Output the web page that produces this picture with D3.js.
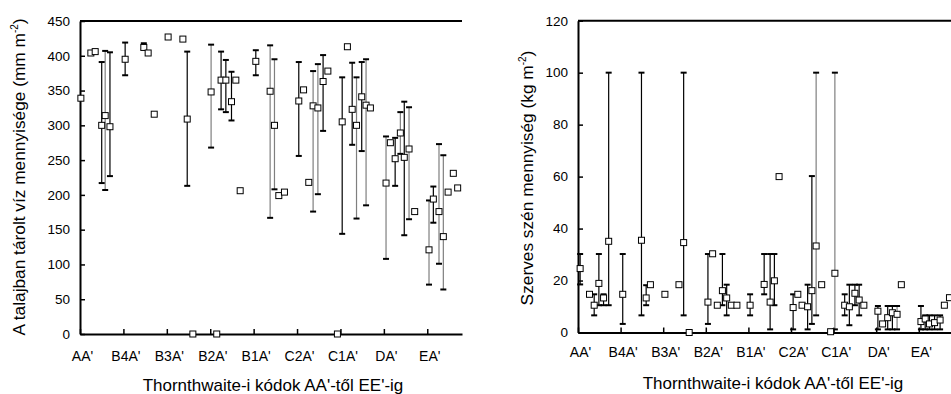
<!DOCTYPE html>
<html><head><meta charset="utf-8">
<script src="https://cdn.jsdelivr.net/npm/d3@7"></script>
<style>
body{margin:0;background:#fff;}
svg{display:block;font-family:"Liberation Sans",Arial,sans-serif;}
</style></head>
<body><svg id="c" width="951" height="394"></svg>
<script>
// ---- tick labels / categories ----
const categories = ["AA'","B4A'","B3A'","B2A'","B1A'","C2A'","C1A'","DA'","EA'"];
const leftTicks = [0,50,100,150,200,250,300,350,400,450];
const rightTicks = [0,20,40,60,80,100,120];

// ---- left chart: stored water (mm m-2) ----
const leftX  = [0.02,0.25,0.35,0.50,0.58,0.69,1.04,1.47,1.57,1.71,2.03,2.37,2.47,2.60,3.02,3.15,3.25,3.36,3.49,3.59,3.69,4.05,4.38,4.48,4.58,4.71,5.04,5.15,5.27,5.37,5.48,5.60,5.71,5.93,6.04,6.16,6.27,6.37,6.49,6.59,6.69,7.05,7.15,7.26,7.38,7.47,7.58,7.71,8.04,8.14,8.27,8.37,8.48,8.60,8.70];
const leftY  = [339,404,406,300,314,298,395,412,404,316,427,424,309,0,348,0,365,365,334,365,206,392,349,300,199,204,335,351,218,328,325,363,378,0,305,413,323,300,341,329,325,217,275,252,289,254,266,176,121,194,176,140,204,231,210];
const leftLo = [null,null,null,217,207,227,372,409,null,null,null,null,213,null,268,null,323,319,307,null,null,372,167,208,null,null,256,null,null,176,201,292,null,null,144,null,272,166,263,185,null,108,null,213,259,142,165,null,71,160,101,64,null,null,null];
const leftHi = [null,null,null,391,407,405,419,418,null,null,null,null,406,null,416,null,406,394,377,null,null,408,415,395,null,null,391,null,null,378,388,401,null,null,369,null,390,369,391,395,null,284,null,282,319,334,326,null,192,212,273,257,null,null,null];
const leftTone = [0,0,0,0,1,0,0,0,0,0,0,0,0,0,1,0,0,0,0,0,0,0,1,1,0,0,0,0,0,1,1,0,0,0,0,0,0,1,0,1,0,1,0,0,1,0,1,0,1,0,1,1,0,0,0];

// ---- right chart: organic carbon (kg m-2) ----
const rightX  = [0.05,0.27,0.38,0.49,0.60,0.72,1.05,1.49,1.60,1.70,2.04,2.37,2.48,2.61,3.05,3.16,3.27,3.39,3.49,3.60,3.73,4.04,4.37,4.51,4.61,4.72,5.05,5.16,5.26,5.39,5.49,5.59,5.72,5.93,6.03,6.26,6.37,6.50,6.60,6.71,7.04,7.15,7.27,7.38,7.49,7.59,8.05,8.15,8.25,8.37,8.50,8.60,8.72];
const rightY  = [24.6,14.7,10.5,18.9,13.3,35.1,14.7,35.5,13.3,18.4,14.7,18.4,34.6,0,11.7,30.3,10.5,16.1,13.3,10.5,10.5,10.5,18.5,11.7,19.9,60,9.6,14.7,10.5,9.9,16.1,33.3,18.4,0.3,22.8,10.5,9.9,15.1,12.5,10.5,8.2,3.3,5.7,7.6,7.0,18.4,4.2,5.2,3.3,3.8,4.8,10.5,13.4];
const rightLo = [18.5,null,6.6,10.5,10.5,10.5,3.3,6.6,10.5,null,null,null,6.6,null,3.3,null,null,10.5,6.6,null,null,6.6,14.7,1.2,10.5,null,1.2,null,null,1.2,3.3,6.6,null,null,1.2,6.6,2.8,10.5,6.6,null,1.2,null,1.2,1.2,1.2,null,1.2,1.2,1.2,1.2,1.2,null,null];
const rightHi = [30.2,null,14.7,30.2,14.7,100,30.2,100,18.2,null,null,null,100,null,30.2,null,null,30.2,18.4,null,null,14.7,30.2,30.2,30.2,null,14.7,null,null,18.4,60.2,100,null,null,100,14.7,18.4,18.4,18.4,null,10.2,null,10.2,10.2,10.2,null,10.2,6.6,6.6,6.6,6.6,null,null];
const rightTone = [0,0,0,0,0,0,0,0,0,0,0,0,0,0,0,0,0,0,0,0,0,0,0,0,0,0,0,0,0,0,0,1,0,0,1,0,0,0,0,0,0,0,0,0,1,0,0,0,0,0,0,0,0];

const svg = d3.select("#c");
svg.append("rect").attr("width",951).attr("height",394).attr("fill","#fff");

function panel(cfg){
  const g = svg.append("g");
  const x = d3.scaleLinear().domain(cfg.xDomain).range([cfg.left, cfg.right]);
  const y = d3.scaleLinear().domain(cfg.yDomain).range([cfg.bottom, cfg.top]);

  // top border
  g.append("line").attr("x1",cfg.left).attr("x2",cfg.right).attr("y1",cfg.top).attr("y2",cfg.top)
    .attr("stroke","#000").attr("stroke-width",2);

  // y axis
  const ya = g.append("g").attr("transform",`translate(${cfg.left},0)`)
    .call(d3.axisLeft(y).tickValues(cfg.yTicks).tickSizeInner(-5).tickSizeOuter(0).tickPadding(10).tickFormat(d3.format("d")));
  ya.select(".domain").attr("stroke-width",2);
  ya.selectAll(".tick line").attr("stroke-width",1.5);
  ya.selectAll("text").attr("font-size",13.5).attr("fill","#000").attr("font-family","Liberation Sans, Arial, sans-serif");

  // x axis
  const xa = g.append("g").attr("transform",`translate(0,${cfg.bottom})`)
    .call(d3.axisBottom(x).tickValues(d3.range(categories.length)).tickSizeInner(-5).tickSizeOuter(0)
      .tickPadding(cfg.xPad).tickFormat(i=>categories[i]));
  xa.select(".domain").attr("stroke-width",2);
  xa.selectAll(".tick line").attr("stroke-width",1.5);
  xa.selectAll("text").attr("font-size",14).attr("fill","#000").attr("dx",2)
    .attr("font-family","Liberation Sans, Arial, sans-serif");

  // error bars
  const idx = d3.range(cfg.xs.length).filter(i=>cfg.lo[i]!=null);
  const eb = g.append("g");
  eb.selectAll("line.v").data(idx).join("line")
    .attr("x1",i=>x(cfg.xs[i])).attr("x2",i=>x(cfg.xs[i]))
    .attr("y1",i=>y(cfg.lo[i])).attr("y2",i=>y(cfg.hi[i]))
    .attr("stroke",i=>cfg.tone[i]?"#7f7f7f":"#000").attr("stroke-width",1.2);
  ["lo","hi"].forEach(k=>{
    eb.selectAll("line."+k).data(idx).join("line").attr("class",k)
      .attr("x1",i=>x(cfg.xs[i])-3).attr("x2",i=>x(cfg.xs[i])+3)
      .attr("y1",i=>y(cfg[k][i])).attr("y2",i=>y(cfg[k][i]))
      .attr("stroke","#000").attr("stroke-width",2);
  });

  // markers
  g.append("g").selectAll("rect").data(d3.range(cfg.xs.length)).join("rect")
    .attr("x",i=>x(cfg.xs[i])-3).attr("y",i=>y(cfg.ys[i])-3)
    .attr("width",6).attr("height",6).attr("fill","#fff").attr("stroke","#000").attr("stroke-width",1);

  // x title
  g.append("text").attr("x",cfg.xTitleX).attr("y",cfg.xTitleY).attr("text-anchor","middle")
    .attr("font-size",17).text("Thornthwaite-i kódok AA'-től EE'-ig");

  // y title
  const t = g.append("text").attr("transform",`translate(${cfg.yTitleX},${cfg.yTitleY}) rotate(-90)`)
    .attr("text-anchor","middle").attr("font-size",17.3);
  t.append("tspan").text(cfg.yTitle);
  t.append("tspan").attr("dy",-7).attr("font-size",10).text("-2");
  t.append("tspan").attr("dy",7).text(")");
}

panel({left:80,right:462,top:21,bottom:334,xDomain:[0,8.8],yDomain:[0,450],yTicks:leftTicks,xPad:17,
  xs:leftX,ys:leftY,lo:leftLo,hi:leftHi,tone:leftTone,
  xTitleX:273,xTitleY:391,yTitleX:25,yTitleY:177,yTitle:"A talajban tárolt víz mennyisége  (mm m"});

panel({left:578,right:578+9*42.6,top:20.7,bottom:332.5,xDomain:[0,9],yDomain:[0,120],yTicks:rightTicks,xPad:15,
  xs:rightX,ys:rightY,lo:rightLo,hi:rightHi,tone:rightTone,
  xTitleX:773,xTitleY:389,yTitleX:533,yTitleY:178,yTitle:"Szerves szén mennyiség (kg m"});
</script>
</body></html>
